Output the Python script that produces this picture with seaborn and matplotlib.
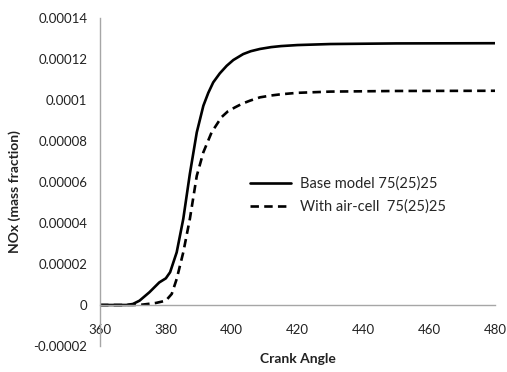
import numpy as np
import pandas as pd
import matplotlib
matplotlib.use("Agg")
import matplotlib.pyplot as plt
import seaborn as sns

# ---- data ----
crank_base = [360, 368, 370, 372, 375, 378, 380, 381.3, 383.3, 385.3, 387.3, 389.4, 391.4,
              392.9, 394.4, 396.4, 398.5, 400.5, 403.5, 405.8, 408.6, 412, 415, 420, 430,
              450, 480]
nox_base = [0, 0, 0.0000005, 0.0000021, 0.0000062, 0.000011, 0.000013, 0.000016, 0.0000257,
            0.000042, 0.000064, 0.0000842, 0.0000972, 0.0001035, 0.0001086, 0.000113,
            0.0001167, 0.0001195, 0.0001224, 0.0001238, 0.0001249, 0.0001258, 0.0001263,
            0.0001268, 0.0001273, 0.0001276, 0.0001277]

crank_air = [360, 370, 373, 377, 380, 381.8, 383.3, 385.3, 387.3, 389.4, 391.4, 393.9,
             396.9, 398.8, 401, 403.2, 405.6, 408.6, 412, 415, 420, 430, 450, 480]
nox_air = [0, 0, 0.0000002, 0.000001, 0.0000021, 0.0000054, 0.0000127, 0.0000257, 0.000042,
           0.000063, 0.0000745, 0.0000842, 0.0000916, 0.0000944, 0.0000964, 0.0000982,
           0.0000997, 0.0001013, 0.0001022, 0.0001028, 0.0001035, 0.0001041, 0.0001044,
           0.0001045]

series_names = ["Base model 75(25)25", "With air-cell  75(25)25"]
x_ticks = [360, 380, 400, 420, 440, 460, 480]
y_ticks = [-0.00002, 0, 0.00002, 0.00004, 0.00006, 0.00008, 0.0001, 0.00012, 0.00014]
y_tick_labels = ["-0.00002", "0", "0.00002", "0.00004", "0.00006", "0.00008",
                 "0.0001", "0.00012", "0.00014"]

df = pd.concat([
    pd.DataFrame({"Crank Angle": crank_base, "NOx": nox_base, "series": series_names[0]}),
    pd.DataFrame({"Crank Angle": crank_air, "NOx": nox_air, "series": series_names[1]}),
])

sns.set_style("white")
plt.rcParams["font.family"] = ["Lato", "DejaVu Sans"]

fig = plt.figure(figsize=(5.07, 3.72), dpi=100)
ax = fig.add_axes([100 / 507, 1 - 346 / 372, 395 / 507, 328 / 372])

sns.lineplot(data=df, x="Crank Angle", y="NOx", hue="series", style="series",
             palette=["black", "black"], dashes=[(None, None), (3.2, 2.0)],
             linewidth=1.9, ax=ax, legend=True, estimator=None, sort=False)
for ln in ax.get_lines():
    ln.set_solid_joinstyle("round")
    ln.set_dash_joinstyle("round")

ax.set_xlim(360, 480)
ax.set_ylim(-0.00002, 0.00014)
ax.set_xticks(x_ticks)
ax.set_xticklabels([str(v) for v in x_ticks])
ax.set_yticks(y_ticks)
ax.set_yticklabels(y_tick_labels)

for s in ["top", "right"]:
    ax.spines[s].set_visible(False)
ax.spines["left"].set_color("#a6a6a6")
ax.spines["left"].set_linewidth(1.0)
ax.spines["bottom"].set_position(("data", 0))
ax.spines["bottom"].set_color("#a6a6a6")
ax.spines["bottom"].set_linewidth(1.0)

ax.tick_params(axis="x", length=0, pad=13.5, labelsize=9.5, colors="#222222")
ax.tick_params(axis="y", length=0, pad=9, labelsize=9.5, colors="#222222")

ax.set_xlabel("Crank Angle", fontsize=10, fontweight="bold", color="#222222")
ax.xaxis.set_label_coords(0.5, -0.022)
ax.set_ylabel("NOx (mass fraction)", fontsize=10, fontweight="bold", color="#222222")
ax.yaxis.set_label_coords(-0.2, 0.47)

leg = ax.legend(loc="center left", bbox_to_anchor=(237 / 507, 1 - 195 / 372),
                bbox_transform=fig.transFigure, frameon=False, fontsize=10.5,
                handlelength=2.8, handletextpad=0.6, labelspacing=0.6)
for line in leg.get_lines():
    line.set_linewidth(1.9)

fig.savefig("out.png", dpi=100)
